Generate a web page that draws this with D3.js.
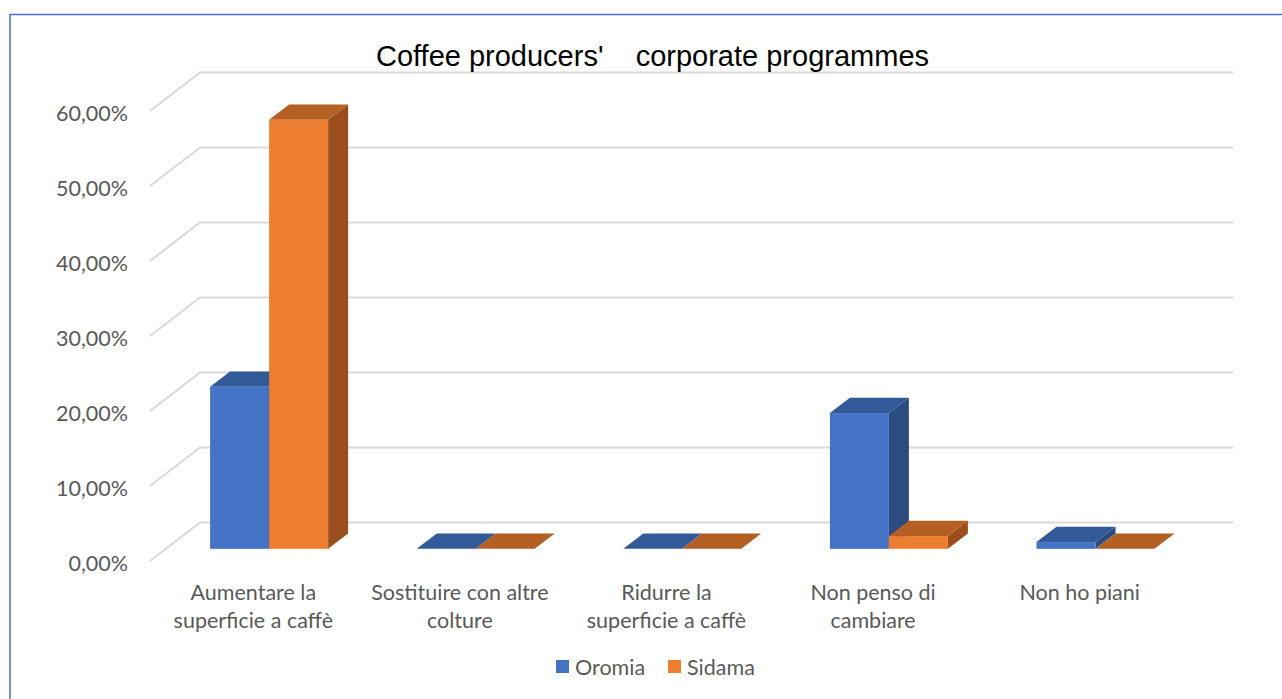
<!DOCTYPE html>
<html>
<head>
<meta charset="utf-8">
<script src="https://cdn.jsdelivr.net/npm/d3@7"></script>
<style>
  html, body { margin: 0; padding: 0; background: #fff; }
  svg { display: block; }
</style>
</head>
<body>
<svg id="chart" width="1282" height="699"></svg>
<script>
// Chart data
const categories = [
  ["Aumentare la", "superficie a caffè"],
  ["Sostituire con altre", "colture"],
  ["Ridurre la", "superficie a caffè"],
  ["Non penso di", "cambiare"],
  ["Non ho piani"]
];
const seriesNames = ["Oromia", "Sidama"];
const oromia = [0.216, 0, 0, 0.181, 0.009];
const sidama = [0.572, 0, 0, 0.017, 0];
const yTicks = [0, 0.1, 0.2, 0.3, 0.4, 0.5, 0.6];
const title = "Coffee producers'    corporate programmes";

const palette = {
  Oromia: { front: "#4472C4", top: "#335A98", side: "#2C4B80" },
  Sidama: { front: "#ED7D31", top: "#B45F23", side: "#9A4D1D" }
};

const labelFont = "Lato, 'Open Sans', sans-serif";
const labelSize = 21.5;

const svg = d3.select("#chart");

// Oblique 3D projection: depth 0 = front plane, depth 1 = back wall
const depthDX = 50, depthDY = -38.5;
const y = d3.scaleLinear().domain([0, 0.6]).range([561, 111]);
const catKeys = categories.map((c, i) => i);
const x0 = d3.scaleBand().domain(catKeys).range([150, 1183]);
const proj = (px, v, d) => [px + d * depthDX, y(v) + d * depthDY];

// Outer frame (left and top edges)
svg.append("path")
  .attr("d", "M10,699 L10,14.5 L1282,14.5")
  .attr("fill", "none")
  .attr("stroke", "#4472C4")
  .attr("stroke-width", 1.5);

// Gridlines: back wall horizontals plus left side diagonals
const grid = svg.append("g").attr("stroke", "#D9D9D9").attr("stroke-width", 2).attr("fill", "none");
yTicks.forEach(t => {
  const a = proj(150, t, 0), b = proj(150, t, 1), c = proj(1183, t, 1);
  grid.append("path").attr("d", `M${a[0]},${a[1]} L${b[0]},${b[1]} L${c[0]},${c[1]}`);
});

// Y axis labels
const fmt = v => d3.format(".2f")(v * 100).replace(".", ",") + "%";
svg.append("g").selectAll("text").data(yTicks).join("text")
  .attr("x", 128)
  .attr("y", d => y(d) + 2)
  .attr("dy", "0.35em")
  .attr("text-anchor", "end")
  .attr("font-family", labelFont)
  .attr("font-size", labelSize)
  .attr("fill", "#595959")
  .text(fmt);

// Bars
const barFront = 0.316, barBack = 0.716;
const x1 = d3.scaleBand().domain(seriesNames).range([0, 118]);
const values = { Oromia: oromia, Sidama: sidama };
const bars = svg.append("g");
catKeys.forEach(ci => {
  const center = x0(ci) + x0.bandwidth() / 2;
  seriesNames.forEach(s => {
    const v = values[s][ci];
    const left = center - 59 + x1(s);
    const right = left + x1.bandwidth();
    const col = palette[s];
    const p = (px, val, d) => proj(px, val, d).join(",");
    // right side face
    bars.append("path")
      .attr("d", `M${p(right, 0, barFront)} L${p(right, 0, barBack)} L${p(right, v, barBack)} L${p(right, v, barFront)} Z`)
      .attr("fill", col.side);
    // top face
    bars.append("path")
      .attr("d", `M${p(left, v, barFront)} L${p(left, v, barBack)} L${p(right, v, barBack)} L${p(right, v, barFront)} Z`)
      .attr("fill", col.top);
    // front face
    if (v > 0) {
      const a = proj(left, v, barFront), b = proj(right, 0, barFront);
      bars.append("rect")
        .attr("x", a[0]).attr("y", a[1])
        .attr("width", b[0] - a[0]).attr("height", b[1] - a[1])
        .attr("fill", col.front);
    }
  });
});

// Category labels
const xl = svg.append("g")
  .attr("font-family", labelFont)
  .attr("font-size", labelSize)
  .attr("fill", "#595959")
  .attr("text-anchor", "middle");
categories.forEach((lines, ci) => {
  const cx = x0(ci) + x0.bandwidth() / 2;
  const t = xl.append("text").attr("x", cx).attr("y", 600);
  lines.forEach((ln, li) => {
    t.append("tspan").attr("x", cx).attr("dy", li === 0 ? 0 : 28).text(ln);
  });
});

// Title
svg.append("text")
  .attr("x", 652.5)
  .attr("y", 66)
  .attr("text-anchor", "middle")
  .attr("font-family", "'Liberation Sans', Arial, sans-serif")
  .attr("font-size", 29)
  .attr("fill", "#000")
  .style("white-space", "pre")
  .text(title);

// Legend
const legend = svg.append("g")
  .attr("font-family", labelFont)
  .attr("font-size", labelSize)
  .attr("fill", "#595959");
const legendX = { Oromia: 556, Sidama: 668 };
seriesNames.forEach(s => {
  legend.append("rect").attr("x", legendX[s]).attr("y", 660).attr("width", 13).attr("height", 13)
    .attr("fill", palette[s].front);
  legend.append("text").attr("x", legendX[s] + 19).attr("y", 667).attr("dy", "0.35em").text(s);
});
</script>
</body>
</html>
